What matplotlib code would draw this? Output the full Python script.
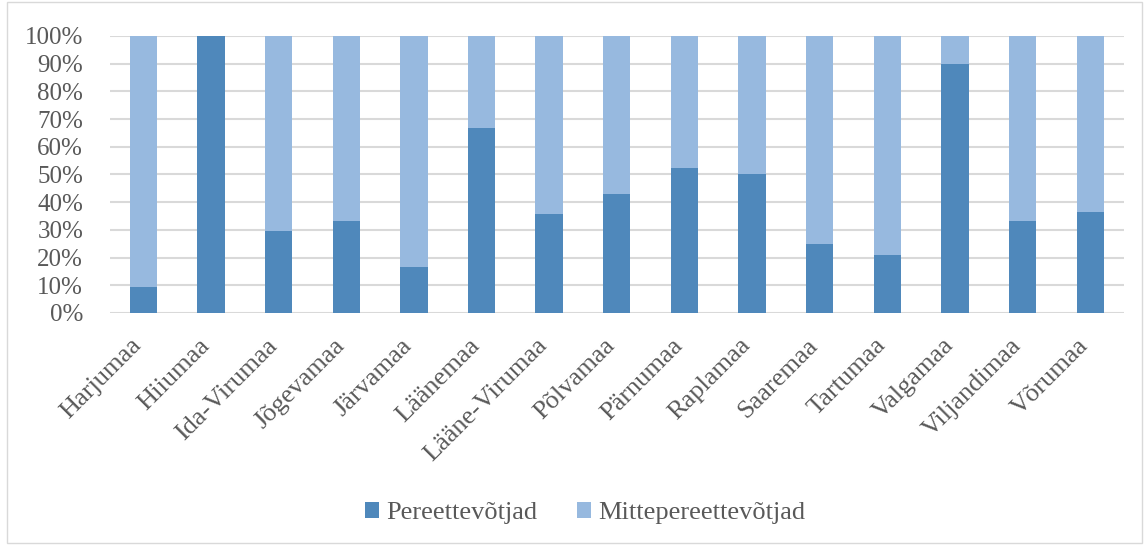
import numpy as np
import matplotlib.pyplot as plt
import matplotlib.transforms as mtransforms
from matplotlib.patches import Rectangle

regions = ['Harjumaa', 'Hiiumaa', 'Ida-Virumaa', 'Jõgevamaa', 'Järvamaa',
           'Läänemaa', 'Lääne-Virumaa', 'Põlvamaa', 'Pärnumaa', 'Raplamaa',
           'Saaremaa', 'Tartumaa', 'Valgamaa', 'Viljandimaa', 'Võrumaa']
pere = [9.5, 100, 29.5, 33.3, 16.7, 66.7, 35.7, 42.9, 52.4, 50.0,
        25.0, 20.8, 90.0, 33.3, 36.4]
mittepere = [100 - v for v in pere]

plt.rcParams['font.family'] = ['Liberation Serif', 'DejaVu Serif']
text_col = '#595959'

fig = plt.figure(figsize=(11.47, 5.45), dpi=100)
ax = fig.add_axes([0.0955, 0.4257, 0.8845, 0.5083])

x = np.arange(len(regions))
w = 0.405
ax.bar(x, pere, w, color='#4F88BB', label='Pereettevõtjad', zorder=3)
ax.bar(x, mittepere, w, bottom=pere, color='#97B9DF',
       label='Mittepereettevõtjad', zorder=3)

ax.set_xlim(-0.5, len(regions) - 0.5)
ax.set_ylim(0, 100)
ax.set_yticks(np.arange(0, 101, 10))
ax.set_yticklabels([f'{v}%' for v in range(0, 101, 10)])
ax.yaxis.grid(True, color='#D9D9D9', linewidth=1.5, zorder=0)
ax.set_axisbelow(True)
for s in ax.spines.values():
    s.set_visible(False)
ax.tick_params(axis='y', length=0, pad=19, labelsize=18, labelcolor=text_col)
ax.tick_params(axis='x', length=0, pad=21, labelsize=19, labelcolor=text_col)
ax.set_xticks(x)
ax.set_xticklabels(regions, rotation=45, ha='right', va='center',
                   rotation_mode='anchor')
shift = mtransforms.ScaledTranslation(-5 / 100, 0, fig.dpi_scale_trans)
for lbl in ax.get_xticklabels():
    lbl.set_transform(lbl.get_transform() + shift)

leg = fig.legend(loc='center', bbox_to_anchor=(0.51, 0.059), ncol=2,
                 frameon=False, fontsize=19, handlelength=0.55,
                 handleheight=0.55, handletextpad=0.25, columnspacing=1.5)
for t in leg.get_texts():
    t.set_color(text_col)

fig.patches.append(Rectangle((0.006, 0.003), 0.99, 0.994,
                             transform=fig.transFigure, fill=False,
                             edgecolor='#D9D9D9', linewidth=1))

fig.savefig('out.png', dpi=100)
